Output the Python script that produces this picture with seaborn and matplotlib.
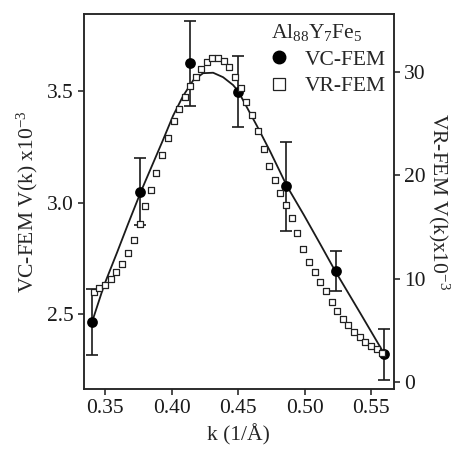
import numpy as np
import pandas as pd
import matplotlib
matplotlib.use("Agg")
import matplotlib.pyplot as plt
from matplotlib.lines import Line2D
import seaborn as sns

# VC-FEM points (left axis, x10^-3) with error bars
vc_k = [0.340, 0.376, 0.4135, 0.450, 0.4863, 0.5232, 0.560]
vc_v = [2.464, 3.050, 3.624, 3.497, 3.073, 2.694, 2.321]
vc_err = [0.148, 0.150, 0.190, 0.160, 0.200, 0.090, 0.115]

# smooth curve through VC-FEM
fit_k = [0.3400, 0.3490, 0.3590, 0.3671, 0.3767, 0.3934, 0.4010, 0.4085, 0.4161,
         0.4236, 0.4311, 0.4386, 0.4461, 0.4499, 0.4640, 0.4740, 0.4866, 0.4994,
         0.5117, 0.5230, 0.5418, 0.5599]
fit_v = [2.466, 2.630, 2.780, 2.905, 3.049, 3.281, 3.390, 3.478, 3.548,
         3.580, 3.582, 3.562, 3.527, 3.500, 3.345, 3.230, 3.075, 2.945,
         2.815, 2.694, 2.506, 2.323]

# VR-FEM squares (right axis, x10^-3)
vr_k = [0.3415, 0.3455, 0.3500, 0.3543, 0.3583, 0.3626, 0.3671, 0.3716, 0.3759,
        0.3799, 0.3842, 0.3884, 0.3929, 0.3972, 0.4015, 0.4055, 0.4098, 0.4140,
        0.4183, 0.4223, 0.4264, 0.4306, 0.4349, 0.4392, 0.4434, 0.4477, 0.4520,
        0.4562, 0.4607, 0.4650, 0.4693, 0.4733, 0.4776, 0.4818, 0.4863, 0.4904,
        0.4946, 0.4991, 0.5034, 0.5074, 0.5117, 0.5160, 0.5202, 0.5245, 0.5285,
        0.5328, 0.5371, 0.5413, 0.5456, 0.5499, 0.5541, 0.5584]
vr_v = [8.70, 9.06, 9.41, 9.96, 10.64, 11.45, 12.48, 13.74, 15.30,
        17.01, 18.62, 20.27, 21.99, 23.64, 25.26, 26.42, 27.58, 28.68,
        29.55, 30.33, 30.98, 31.40, 31.40, 31.11, 30.49, 29.52, 28.46,
        27.08, 25.84, 24.32, 22.54, 20.89, 19.56, 18.27, 17.14, 15.85,
        14.39, 12.90, 11.64, 10.61, 9.64, 8.77, 7.73, 6.86, 6.11,
        5.47, 4.79, 4.31, 3.85, 3.46, 3.14, 2.81]

sns.set_style("ticks")
plt.rcParams["font.family"] = ["Liberation Serif", "DejaVu Serif"]
plt.rcParams["mathtext.default"] = "regular"
plt.rcParams["axes.linewidth"] = 1.1

FS = 15.5

vc = pd.DataFrame({"k": vc_k, "v": vc_v, "err": vc_err})
fit = pd.DataFrame({"k": fit_k, "v": fit_v})
vr = pd.DataFrame({"k": vr_k, "v": vr_v})

fig = plt.figure(figsize=(4.57, 4.50), dpi=100)
ax = fig.add_axes([0.184, 0.1356, 0.6775, 0.8333])

sns.lineplot(data=fit, x="k", y="v", ax=ax, color="#1a1a1a", lw=1.3, sort=False)
ax.errorbar(vc["k"], vc["v"], yerr=vc["err"], fmt="none", ecolor="#1a1a1a",
            elinewidth=1.2, capsize=4, capthick=1.2)
sns.scatterplot(data=vc, x="k", y="v", ax=ax, color="black", s=60,
                edgecolor="black", linewidth=0, zorder=3)

ax.set_xlim(0.334, 0.567)
ax.set_ylim(2.166, 3.845)
ax.set_xticks([0.35, 0.40, 0.45, 0.50, 0.55])
ax.set_xticklabels(["0.35", "0.40", "0.45", "0.50", "0.55"])
ax.set_yticks([2.5, 3.0, 3.5])
ax.set_yticklabels(["2.5", "3.0", "3.5"])
ax.set_xlabel("k (1/Å)", fontsize=FS, labelpad=4)
ax.set_ylabel("VC-FEM V(k) x10$^{-3}$", fontsize=FS, labelpad=5)
ax.tick_params(direction="out", length=4, width=1.1, labelsize=FS, colors="#1a1a1a")

ax2 = ax.twinx()
sns.scatterplot(data=vr, x="k", y="v", ax=ax2, marker="s", s=22,
                facecolor="white", edgecolor="#222222", linewidth=0.9)
ax2.set_ylim(-0.71, 35.65)
ax2.set_yticks([0, 10, 20, 30])
ax2.set_yticklabels(["0", "10", "20", "30"])
ax2.set_ylabel("VR-FEM V(k)x10$^{-3}$", fontsize=FS, rotation=270, labelpad=18)
ax2.tick_params(direction="out", length=4, width=1.1, labelsize=FS, colors="#1a1a1a")
ax2.set_xlim(0.334, 0.567)

for a in (ax, ax2):
    for s in a.spines.values():
        s.set_visible(True)
        s.set_linewidth(1.1)

handles = [
    Line2D([], [], ls="none", marker="o", ms=9, color="black"),
    Line2D([], [], ls="none", marker="s", ms=8.5, mfc="white", mec="#222222", mew=0.9),
]
leg = ax2.legend(handles, ["VC-FEM", "VR-FEM"], title="Al$_{88}$Y$_{7}$Fe$_{5}$",
                 loc="upper right", bbox_to_anchor=(0.995, 0.995), frameon=False,
                 fontsize=FS, title_fontsize=FS, handletextpad=0.85,
                 labelspacing=0.3, borderpad=0.2, handlelength=0.7,
                 borderaxespad=0.1)
leg._legend_box.align = "left"

fig.savefig("out.png", dpi=100)
